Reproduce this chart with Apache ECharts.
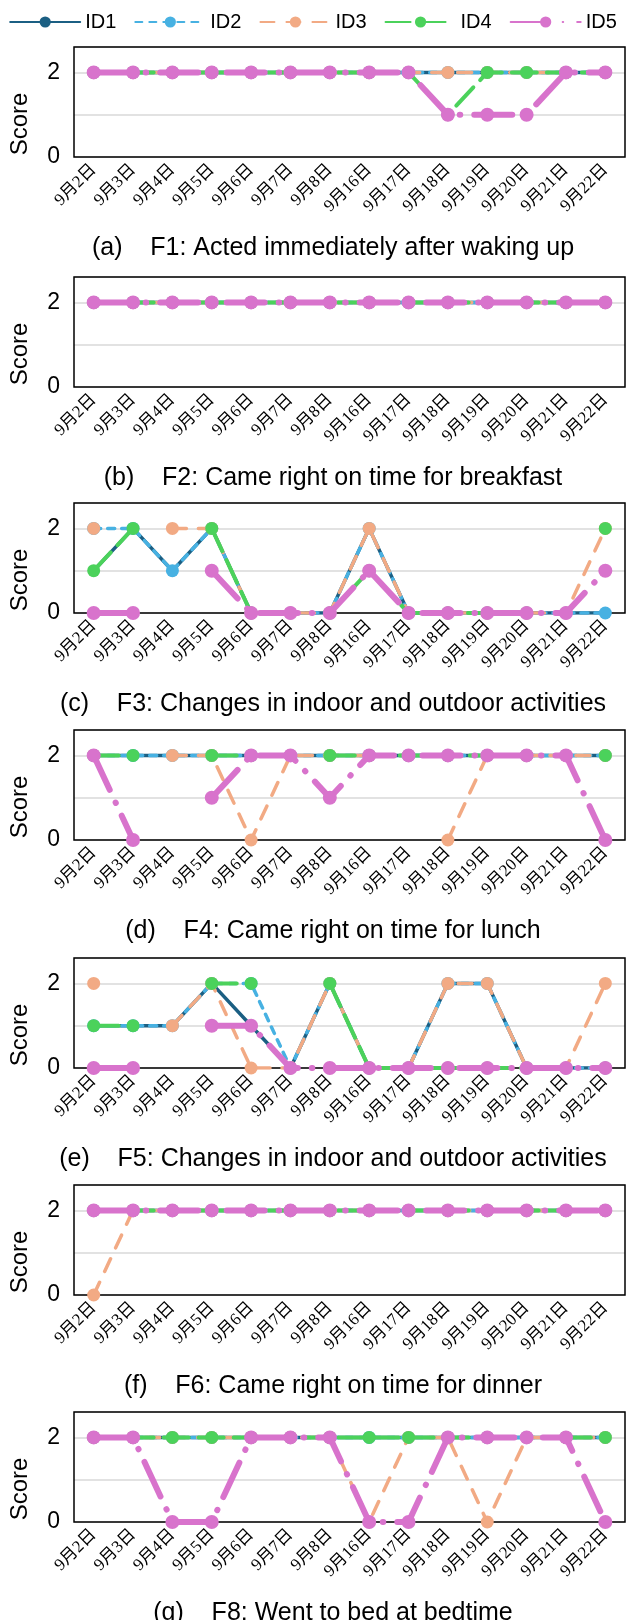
<!DOCTYPE html>
<html><head><meta charset="utf-8">
<script src="https://cdn.jsdelivr.net/npm/echarts@6/dist/echarts.min.js"></script>
<style>html,body{margin:0;padding:0;background:#fff}#c{width:626px;height:1620px}</style>
</head><body><div id="c"></div>
<script>
const categories = ['9月2日','9月3日','9月4日','9月5日','9月6日','9月7日','9月8日','9月16日','9月17日','9月18日','9月19日','9月20日','9月21日','9月22日'];
const seriesNames = ['ID1','ID2','ID3','ID4','ID5'];
const yTickLabels = [0, 2];
const panelTitles = [
  '(a)    F1: Acted immediately after waking up',
  '(b)    F2: Came right on time for breakfast',
  '(c)    F3: Changes in indoor and outdoor activities',
  '(d)    F4: Came right on time for lunch',
  '(e)    F5: Changes in indoor and outdoor activities',
  '(f)    F6: Came right on time for dinner',
  '(g)    F8: Went to bed at bedtime'
];
// rows: ID1, ID2, ID3, ID4, ID5
const scoresF1 = [
  [2,2,2,2,2,2,2,2,2,2,2,2,2,2],
  [2,2,2,2,2,2,2,2,2,2,2,2,2,2],
  [2,2,2,2,2,2,2,2,2,2,2,2,2,2],
  [2,2,2,2,2,2,2,2,2,1,2,2,2,2],
  [2,2,2,2,2,2,2,2,2,1,1,1,2,2]
];
const scoresF2 = [
  [2,2,2,2,2,2,2,2,2,2,2,2,2,2],
  [2,2,2,2,2,2,2,2,2,2,2,2,2,2],
  [2,2,2,2,2,2,2,2,2,2,2,2,2,2],
  [2,2,2,2,2,2,2,2,2,2,2,2,2,2],
  [2,2,2,2,2,2,2,2,2,2,2,2,2,2]
];
const scoresF3 = [
  [1,2,1,2,0,0,0,2,0,0,0,0,0,0],
  [2,2,1,2,0,0,0,2,0,0,0,0,0,0],
  [2,null,2,2,0,0,0,2,0,0,0,0,0,2],
  [1,2,null,2,0,null,0,1,0,0,0,0,null,2],
  [0,0,null,1,0,0,0,1,0,0,0,0,0,1]
];
const scoresF4 = [
  [2,2,2,2,2,2,2,2,2,2,2,2,2,2],
  [2,2,2,2,2,2,2,2,2,2,2,2,2,2],
  [2,null,2,2,0,2,2,2,null,0,2,2,2,2],
  [2,2,null,2,2,null,2,2,2,2,2,2,null,2],
  [2,0,null,1,2,2,1,2,2,2,2,2,2,0]
];
const scoresF5 = [
  [1,1,1,2,1,0,2,0,0,2,2,0,0,0],
  [1,1,1,2,2,0,2,0,0,2,2,0,0,0],
  [2,null,1,2,0,0,2,0,0,2,2,0,0,2],
  [1,1,null,2,2,null,2,0,0,0,0,0,null,0],
  [0,0,null,1,1,0,0,0,0,0,0,0,0,0]
];
const scoresF6 = [
  [2,2,2,2,2,2,2,2,2,2,2,2,2,2],
  [2,2,2,2,2,2,2,2,2,2,2,2,2,2],
  [0,2,2,2,2,2,2,2,2,2,2,2,2,2],
  [2,2,2,2,2,2,2,2,2,2,2,2,2,2],
  [2,2,2,2,2,2,2,2,2,2,2,2,2,2]
];
const scoresF8 = [
  [2,2,2,2,2,2,2,2,2,2,2,2,2,2],
  [2,2,2,2,2,2,2,2,2,2,2,2,2,2],
  [2,2,2,2,2,2,2,0,2,2,0,2,2,2],
  [2,2,2,2,2,2,2,2,2,2,2,null,2,2],
  [2,2,0,0,2,2,2,0,0,2,2,2,2,0]
];
const panels = [scoresF1, scoresF2, scoresF3, scoresF4, scoresF5, scoresF6, scoresF8];

const seriesStyles = [
  {color:'#1b5f83', width:3.5, dash:'solid',          size:10},
  {color:'#47b1e2', width:3.5, dash:[7,7],            size:13},
  {color:'#f2aa84', width:3.5, dash:[14,12],          size:13},
  {color:'#4bd25b', width:4,   dash:[25,10],          size:13},
  {color:'#d873cc', width:6,   dash:[38,14,0.5,14],   size:14}
];
const gridTops = [47, 277, 503, 730, 958, 1185, 1412];
const plotH = 110, gridLeft = 74, gridRight = 1;
const sans = 'Liberation Sans, Arial, sans-serif';

const grids = [], xAxes = [], yAxes = [], series = [], graphics = [];
panels.forEach((panel, i) => {
  grids.push({left: gridLeft, right: gridRight, top: gridTops[i], height: plotH,
    show: true, borderColor: '#000', borderWidth: 1.5, z: 1, containLabel: false});
  xAxes.push({gridIndex: i, type: 'category', data: categories, boundaryGap: true,
    axisLine: {show: false}, axisTick: {show: false}, splitLine: {show: false},
    axisLabel: {rotate: 45, interval: 0, fontSize: 17, margin: 10, color: '#000',
      fontFamily: 'Liberation Serif, "Noto Sans CJK JP", serif'}});
  yAxes.push({gridIndex: i, type: 'value', min: 0, max: 2.6, interval: 1,
    axisLine: {show: false}, axisTick: {show: false},
    axisLabel: {fontSize: 23, color: '#000', margin: 14, fontFamily: sans,
      formatter: v => yTickLabels.includes(v) ? String(v) : ''},
    splitLine: {lineStyle: {color: '#d9d9d9', width: 1.5}},
    name: 'Score', nameLocation: 'middle', nameGap: 42,
    nameTextStyle: {fontSize: 24, color: '#000', fontFamily: sans, padding: [0, 44, 0, 0]}});
  panel.forEach((vals, s) => {
    const st = seriesStyles[s];
    series.push({name: seriesNames[s], type: 'line', xAxisIndex: i, yAxisIndex: i,
      data: vals, symbol: 'circle', symbolSize: st.size, showSymbol: true, showAllSymbol: true,
      connectNulls: false, animation: false, z: 2 + s * 0.01,
      itemStyle: {color: st.color},
      lineStyle: {color: st.color, width: st.width, type: st.dash, cap: 'round', join: 'round'},
      emphasis: {disabled: true}});
  });
  graphics.push({type: 'text', x: 333, y: gridTops[i] + 201,
    style: {text: panelTitles[i], fontSize: 25, fontFamily: sans, fill: '#000',
      align: 'center', verticalAlign: 'middle'}});
});

const chart = echarts.init(document.getElementById('c'), null, {renderer: 'canvas'});
chart.setOption({
  animation: false,
  backgroundColor: '#fff',
  legend: {top: 7, left: 'center', data: seriesNames, itemWidth: 70, itemHeight: 14, itemGap: 18,
    textStyle: {fontSize: 20, color: '#000', fontFamily: sans}},
  grid: grids, xAxis: xAxes, yAxis: yAxes, series: series, graphic: graphics
});
</script></body></html>
